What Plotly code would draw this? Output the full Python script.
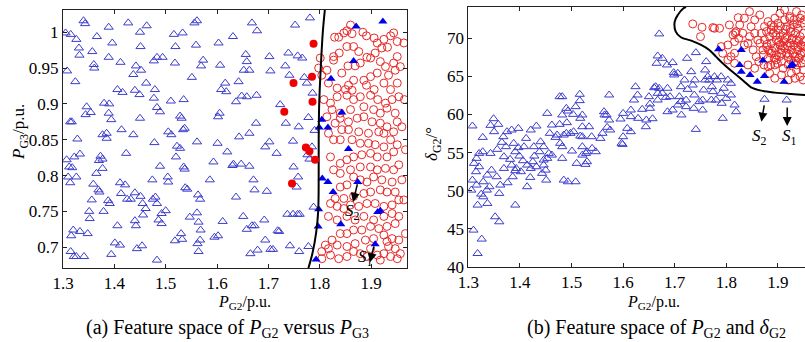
import plotly.graph_objects as go

# ---------------- Panel (a): P_G2 vs P_G3 ----------------
a_tri_p = [1.340,1.343,1.305,1.315,1.326,1.331,1.332,1.308,1.324,1.357,1.360,1.361,1.366,1.389,1.396,1.389,1.412,1.427,1.450,1.451,
           1.463,1.437,1.442,1.452,1.462,1.406,1.416,1.440,1.449,1.477,1.483,1.494,1.479,1.477,1.483,1.489,1.516,1.519,1.533,1.518,
           1.559,1.556,1.561,1.551,1.535,1.510,1.569,1.573,1.603,1.606,1.616,1.608,1.618,1.631,1.642,1.652,1.663,1.656,1.658,1.658,
           1.648,1.637,1.677,1.668,1.678,1.702,1.704,1.723,1.739,1.733,1.741,1.752,1.757,1.766,1.770,1.775,1.781,1.786,
           1.314,1.317,1.346,1.344,1.354,1.380,1.390,1.389,1.394,1.328,1.377,1.385,1.385,1.414,1.437,1.450,1.478,1.505,1.511,1.528,
           1.531,1.534,1.537,1.522,1.528,1.561,1.602,1.605,1.601,1.643,1.663,1.676,1.694,1.702,1.716,1.734,1.748,1.759,1.778,1.790,
           1.307,1.312,1.318,1.322,1.333,1.310,1.314,1.326,1.365,1.373,1.370,1.377,1.359,1.369,1.371,1.377,1.356,1.351,1.352,1.379,
           1.388,1.391,1.411,1.421,1.423,1.413,1.425,1.432,1.440,1.451,1.455,1.461,1.456,1.440,1.442,1.406,1.401,1.394,1.475,1.483,
           1.480,1.474,1.489,1.486,1.492,1.500,1.504,1.505,1.520,1.535,1.537,1.542,1.538,1.547,1.530,1.532,1.518,1.561,1.564,1.568,
           1.562,1.564,1.563,1.567,1.593,1.586,1.602,1.611,1.595,1.620,1.630,1.632,1.647,1.637,1.663,1.671,1.673,1.651,1.668,1.673,
           1.658,1.665,1.679,1.692,1.697,1.694,1.704,1.709,1.718,1.721,1.742,1.737,1.748,1.757,1.761,1.749,1.758,1.755,1.760,1.778,
           1.788,1.320,1.333,1.348,1.316,1.315,1.321,1.326,1.341,1.483,1.411,1.454,1.444,1.492,1.567,1.780,1.776,1.785]
a_tri_v = [1.016,1.012,0.999,0.997,0.990,0.978,0.968,0.946,0.931,0.973,0.955,0.950,0.994,1.007,0.985,0.965,0.958,1.013,1.000,0.980,
           1.009,0.941,0.953,0.947,0.929,0.920,0.916,0.919,0.913,0.960,0.965,0.965,0.920,0.908,0.895,0.889,0.997,0.980,0.999,0.957,
           0.982,1.013,1.016,0.937,0.906,0.904,0.953,0.961,0.985,0.954,0.929,0.920,0.917,0.994,0.931,0.947,0.947,0.969,0.959,0.910,
           0.911,0.903,0.912,1.013,1.002,0.966,0.946,0.899,0.971,0.953,0.940,1.010,0.967,0.964,0.937,0.929,1.020,0.915,
           0.875,0.875,0.896,0.885,0.888,0.901,0.900,0.887,0.878,0.851,0.857,0.859,0.852,0.864,0.857,0.880,0.846,0.861,0.857,0.883,
           0.880,0.864,0.866,0.841,0.838,0.847,0.882,0.887,0.845,0.854,0.859,0.873,0.840,0.847,0.831,0.873,0.848,0.868,0.881,0.863,
           0.822,0.812,0.811,0.826,0.830,0.798,0.790,0.798,0.803,0.827,0.821,0.823,0.788,0.780,0.777,0.810,0.766,0.750,0.740,0.750,
           0.765,0.761,0.790,0.787,0.831,0.775,0.767,0.767,0.776,0.771,0.761,0.754,0.745,0.737,0.730,0.730,0.706,0.690,0.767,0.761,
           0.770,0.794,0.813,0.738,0.733,0.751,0.798,0.791,0.826,0.812,0.809,0.781,0.783,0.742,0.719,0.711,0.709,0.748,0.735,0.724,
           0.705,0.694,0.773,0.767,0.819,0.794,0.716,0.736,0.714,0.833,0.814,0.816,0.816,0.770,0.813,0.794,0.780,0.743,0.730,0.730,
           0.725,0.691,0.696,0.738,0.778,0.710,0.697,0.697,0.723,0.722,0.702,0.746,0.746,0.746,0.746,0.812,0.798,0.784,0.694,0.701,
           0.756,0.724,0.722,0.719,0.716,0.694,0.687,0.687,0.687,0.682,0.703,0.702,0.698,0.747,0.710,0.823,0.829,0.840]

a_circ_p = [1.860,1.853,1.847,1.837,1.829,1.863,1.884,1.891,1.906,1.912,1.925,1.938,1.944,1.951,1.932,1.921,1.908,1.899,1.876,1.866,
            1.853,1.838,1.827,1.814,1.804,1.843,1.855,1.869,1.879,1.892,1.918,1.928,1.944,1.951,1.947,1.934,1.912,1.899,1.886,1.866,
            1.856,1.834,1.850,1.863,1.891,1.906,1.925,1.938,1.951,1.954,1.941,1.928,1.913,1.899,1.879,1.866,1.853,1.834,1.821,1.808,
            1.824,1.840,1.860,1.886,1.905,1.918,1.931,1.947,1.801,1.798,1.817,1.827,
            1.814,1.840,1.856,1.873,1.886,1.902,1.918,1.931,1.951,1.944,1.925,1.915,1.895,1.876,1.856,1.843,1.830,1.817,1.827,1.840,
            1.863,1.879,1.895,1.908,1.925,1.938,1.951,1.944,1.931,1.912,1.899,1.882,1.866,1.853,1.840,1.821,1.827,1.840,1.860,1.879,
            1.899,1.912,1.928,1.944,1.954,1.941,1.921,1.905,1.892,1.879,1.866,1.853,1.840,1.830,1.847,1.866,1.886,1.899,1.918,1.931,
            1.947,1.954,1.941,1.925,1.908,1.892,1.876,1.860,1.847,1.834,1.821,
            1.817,1.834,1.853,1.869,1.886,1.905,1.925,1.941,1.954,1.947,1.931,1.915,1.899,1.882,1.866,1.853,1.840,1.824,1.811,1.804,
            1.817,1.834,1.853,1.869,1.889,1.905,1.925,1.941,1.954,1.947,1.934,1.925,1.912,1.892,1.879,1.866,1.853,1.837,1.821,1.804,
            1.918,1.938,1.951,1.899,1.931,1.964,1.965,1.967,1.964,1.967,1.957,1.960,1.960,1.957]
a_circ_v = [1.010,1.002,0.999,0.993,0.993,0.998,1.000,0.995,0.992,0.985,0.990,0.995,0.999,0.987,0.979,0.978,0.971,0.964,0.973,0.980,
            0.980,0.971,0.961,0.947,0.940,0.943,0.953,0.953,0.957,0.965,0.959,0.952,0.957,0.966,0.947,0.940,0.943,0.938,0.933,0.933,
            0.926,0.922,0.920,0.919,0.926,0.920,0.929,0.920,0.929,0.910,0.906,0.901,0.906,0.912,0.910,0.906,0.912,0.910,0.901,0.906,
            0.892,0.887,0.892,0.896,0.892,0.887,0.894,0.887,0.964,0.950,0.929,0.966,
            0.882,0.880,0.875,0.880,0.882,0.875,0.873,0.868,0.875,0.861,0.859,0.861,0.859,0.861,0.864,0.864,0.873,0.859,0.850,0.850,
            0.850,0.845,0.845,0.843,0.840,0.850,0.843,0.833,0.826,0.826,0.831,0.829,0.826,0.822,0.817,0.826,0.808,0.803,0.808,0.812,
            0.812,0.808,0.810,0.808,0.815,0.791,0.794,0.798,0.791,0.794,0.798,0.787,0.784,0.768,0.768,0.771,0.775,0.777,0.780,0.777,
            0.777,0.766,0.759,0.757,0.761,0.761,0.757,0.759,0.754,0.757,0.761,
            0.743,0.738,0.743,0.738,0.743,0.738,0.743,0.747,0.743,0.733,0.729,0.726,0.729,0.724,0.724,0.719,0.719,0.710,0.703,0.694,
            0.698,0.703,0.701,0.705,0.710,0.712,0.717,0.712,0.710,0.698,0.701,0.691,0.689,0.687,0.691,0.694,0.687,0.684,0.689,0.684,
            0.682,0.687,0.684,0.698,0.708,0.985,0.906,0.836,0.766,0.719,0.952,0.868,0.794,0.691]

a_blue_p = [1.871,1.923,1.866,1.822,1.843,1.804,1.799,1.816,1.856,1.805,1.816,1.826,1.874,1.798,1.918,1.913,1.797,1.841,1.908,1.793]
a_blue_v = [1.008,1.015,0.960,0.935,0.888,0.878,0.867,0.867,0.837,0.796,0.791,0.777,0.791,0.753,0.751,0.749,0.729,0.732,0.704,0.683]

a_red_p = [1.788,1.749,1.785,1.786,1.731,1.773,1.780,1.791,1.746]
a_red_v = [0.984,0.929,0.938,0.903,0.889,0.839,0.834,0.822,0.789]

a_bound_p = [1.810,1.806,1.802,1.799,1.798,1.798,1.797,1.793,1.786,1.778]
a_bound_v = [1.031,1.000,0.950,0.900,0.850,0.800,0.750,0.720,0.692,0.671]

# ---------------- Panel (b): P_G2 vs delta_G2 ----------------
b_tri_p = [1.308,1.328,1.349,1.343,1.358,1.350,1.368,1.375,1.365,1.384,1.397,1.388,1.373,1.356,1.343,1.328,1.321,1.316,1.311,1.321,
           1.315,1.308,1.306,1.316,1.329,1.337,1.345,1.341,1.325,1.329,1.318,1.336,1.355,1.362,1.360,1.369,1.369,1.381,1.391,1.393,
           1.386,1.376,1.391,1.384,1.397,1.399,1.406,1.402,1.414,1.414,1.391,1.352,1.337,1.360,1.310,1.326,1.318,1.408,1.421,1.432,
           1.440,1.412,1.427,1.438,1.446,1.428,1.425,1.421,1.420,1.432,1.443,1.446,1.446,1.451,1.450,1.453,1.456,1.462,1.469,1.458,
           1.462,1.453,1.478,1.472,1.482,1.482,1.477,1.477,1.482,1.482,1.490,1.493,1.491,1.498,1.504,1.503,1.508,1.490,1.485,1.517,
           1.521,1.516,1.516,1.521,1.521,1.517,1.521,1.530,1.534,1.539,1.530,1.527,1.521,1.510,1.501,1.485,1.493,1.508,1.528,1.540,
           1.547,1.556,1.560,1.564,1.568,1.563,1.573,1.573,1.569,1.575,1.595,1.600,1.599,1.597,1.615,1.608,1.600,1.615,1.621,1.615,
           1.624,1.628,1.629,1.637,1.644,1.645,1.652,1.657,1.650,1.652,1.667,1.670,1.676,1.683,1.660,1.667,1.665,1.667,1.670,1.663,
           1.676,1.685,1.696,1.698,1.699,1.706,1.709,1.712,1.719,1.724,1.732,1.735,1.739,1.741,1.754,1.756,1.759,1.759,1.761,1.764,
           1.767,1.772,1.774,1.777,1.782,1.790,1.795,1.791,1.793,1.803,1.809,1.816,1.819,1.696,1.686,1.713,1.741,1.712,1.725,1.738,
           1.748,1.722,1.686,1.691,1.706,1.722,1.737,1.754,1.771,1.780,1.790,1.800,1.809,1.874,1.917]
b_tri_d = [58.5,57.0,59.45,58.58,58.71,57.75,57.09,57.75,56.35,57.97,58.18,56.22,55.78,55.43,54.9,55.12,54.9,54.25,53.59,53.15,
           52.5,51.4,50.09,50.75,51.18,52.06,52.71,50.53,49.56,49.21,48.12,50.09,51.84,50.75,49.65,52.93,54.47,54.12,55.12,52.93,
           51.84,51.05,52.63,53.37,55.65,54.55,53.94,52.5,53.37,50.53,48.12,46.59,48.34,45.93,44.84,43.66,41.77,55.78,57.97,58.49,
           56.43,56.87,55.78,55.12,55.78,54.55,53.81,52.93,51.75,53.15,52.28,54.03,53.37,51.4,52.71,54.25,54.9,54.68,57.0,57.53,
           58.62,60.15,56.22,57.31,55.78,54.25,58.71,62.34,62.34,59.94,60.81,60.46,58.93,57.53,57.75,60.02,61.03,57.53,57.31,59.5,
           59.94,61.82,62.65,58.4,57.09,57.18,55.78,55.12,58.4,57.09,53.81,53.46,54.68,53.59,55.21,51.4,51.18,51.18,54.9,55.56,
           55.12,56.87,57.53,59.94,59.94,60.37,59.28,62.56,58.32,57.97,59.41,60.15,56.08,56.22,59.72,58.18,57.09,57.75,61.9,60.59,
           63.65,62.56,59.5,60.68,58.4,59.28,61.38,59.45,62.34,60.81,62.78,63.44,62.78,62.25,63.52,61.9,66.72,67.68,70.57,63.65,
           67.37,66.5,66.81,65.49,65.19,65.41,62.34,61.69,64.53,67.37,65.62,63.87,64.53,68.12,61.9,63.22,64.53,65.84,66.94,64.97,
           64.53,63.65,63.0,64.97,64.53,64.97,63.44,61.47,59.5,64.53,64.09,61.25,60.37,60.59,60.37,59.94,58.05,63.65,63.3,62.56,
           61.69,61.9,63.44,62.34,61.25,61.03,60.81,60.59,61.9,61.9,62.78,62.12,62.56,62.0,61.9]

b_circ_p = [1.735,1.753,1.750,1.777,1.787,1.806,1.819,1.835,1.845,1.855,1.865,1.874,1.881,1.887,1.894,1.904,1.913,1.923,1.936,1.946,
            1.952,1.793,1.803,1.809,1.816,1.835,1.845,1.852,1.858,1.865,1.878,1.881,1.887,1.897,1.907,1.920,1.933,1.943,1.949,1.936,
            1.946,1.926,1.894,1.884,1.855,1.842,1.816,1.803,1.816,1.790,1.952,
            1.868,1.874,1.878,1.884,1.887,1.891,1.894,1.897,1.900,1.904,1.904,1.907,1.910,1.912,1.913,1.917,1.918,1.920,1.923,1.925,
            1.926,1.928,1.930,1.931,1.933,1.934,1.936,1.938,1.939,1.941,1.943,1.944,1.946,1.947,1.949,1.951,1.952,1.951,1.913,1.900,
            1.887,1.943,1.907,1.894,1.920,1.881,1.871,1.861,1.855,1.848,1.842,1.832,1.826,1.824,1.813,1.936,1.923,1.897,1.910,1.930,
            1.906,1.939,1.882,1.893,1.917,1.925,1.902,1.915,1.931,1.886,1.873,1.863,1.949,1.774,1.823,1.817,
            1.872,1.879,1.889,1.896,1.903,1.909,1.914,1.919,1.922,1.927,1.929,1.935,1.940,1.944,1.948,1.905,1.924,1.937,1.892,1.899]
b_circ_d = [71.88,71.44,70.22,71.31,71.31,71.75,70.88,72.63,73.5,72.41,73.06,71.53,72.19,71.09,72.63,73.28,73.72,72.84,73.5,73.06,
            72.41,68.03,69.12,67.59,69.56,69.12,70.22,68.47,67.59,69.34,68.91,66.28,68.03,67.16,65.19,64.53,64.75,64.97,64.53,65.84,
            66.72,65.41,64.75,65.41,66.06,66.5,66.72,67.16,68.03,68.91,68.91,
            70.66,69.78,70.88,70.22,69.34,70.66,68.69,69.78,71.09,70.22,69.12,68.03,70.66,69.56,68.69,71.53,70.22,67.59,69.34,70.88,
            68.47,70.0,71.75,69.12,67.59,70.66,69.78,68.47,71.31,67.37,70.22,69.12,68.03,71.97,70.66,69.56,67.16,68.2,72.41,71.97,
            71.75,72.63,66.94,66.5,66.5,67.37,68.47,69.78,70.66,71.53,69.34,70.66,71.75,70.0,70.44,66.5,72.63,67.81,66.06,66.72,
            68.47,68.91,68.47,67.37,68.03,67.16,69.56,71.18,72.41,66.5,66.5,66.94,65.84,71.4,72.7,70.7,
            67.8,69.2,68.3,70.4,67.6,69.0,70.0,69.0,67.9,69.8,68.0,67.0,69.6,67.8,69.0,71.6,71.3,71.9,71.5,66.7]

b_blue_p = [1.785,1.829,1.826,1.871,1.829,1.846,1.874,1.860,1.912,1.925,1.928]
b_blue_d = [68.56,68.47,66.5,67.07,65.62,65.19,65.06,64.31,64.31,66.37,66.59]

b_bound_p = [1.722,1.717,1.706,1.700,1.702,1.712,1.732,1.751,1.767,1.780,1.793,1.806,1.822,1.835,1.848,1.868,1.894,1.926,1.955]
b_bound_d = [74.1,73.94,73.06,72.19,70.88,70.13,69.69,69.12,68.47,67.59,66.72,65.93,65.06,64.31,63.57,63.13,62.87,62.69,62.56]

# Arrows (tail -> head) and labels
a_arrow_tail = [(1.874, 0.790), (1.906, 0.703)]
a_arrow_head = [(1.865, 0.763), (1.898, 0.679)]
a_labels = [("S", "2", 1.863, 0.749), ("S", "1", 1.889, 0.685)]
b_arrow_tail = [(1.874, 61.38), (1.918, 61.12)]
b_arrow_head = [(1.868, 59.06), (1.918, 58.49)]
b_labels = [("S", "2", 1.865, 57.1), ("S", "1", 1.923, 57.1)]

a_xticks = [1.3, 1.4, 1.5, 1.6, 1.7, 1.8, 1.9]
a_yticks = [0.7, 0.75, 0.8, 0.85, 0.9, 0.95, 1.0]
b_yticks = [40, 45, 50, 55, 60, 65, 70]

TRI_COL = "rgb(60,60,205)"
RED_COL = "rgb(232,40,40)"
FONT = "Liberation Serif"

fig = go.Figure()

def add_panel(xa, ya, tri_x, tri_y, circ_x, circ_y, blue_x, blue_y, bx, by):
    fig.add_trace(go.Scatter(x=tri_x, y=tri_y, mode="markers", xaxis=xa, yaxis=ya,
                             marker=dict(symbol="triangle-up-open", size=8, color=TRI_COL, line=dict(width=1))))
    fig.add_trace(go.Scatter(x=circ_x, y=circ_y, mode="markers", xaxis=xa, yaxis=ya,
                             marker=dict(symbol="circle-open", size=8, color=RED_COL, line=dict(width=1))))
    fig.add_trace(go.Scatter(x=blue_x, y=blue_y, mode="markers", xaxis=xa, yaxis=ya,
                             marker=dict(symbol="triangle-up", size=8, color="rgb(0,0,235)")))
    fig.add_trace(go.Scatter(x=bx, y=by, mode="lines", xaxis=xa, yaxis=ya,
                             line=dict(color="black", width=2, shape="spline")))

add_panel("x", "y", a_tri_p, a_tri_v, a_circ_p, a_circ_v, a_blue_p, a_blue_v, a_bound_p, a_bound_v)
fig.add_trace(go.Scatter(x=a_red_p, y=a_red_v, mode="markers", xaxis="x", yaxis="y",
                         marker=dict(symbol="circle", size=8, color="rgb(240,0,0)")))
add_panel("x2", "y2", b_tri_p, b_tri_d, b_circ_p, b_circ_d, b_blue_p, b_blue_d, b_bound_p, b_bound_d)

ann = []
for (t, h) in zip(a_arrow_tail, a_arrow_head):
    ann.append(dict(x=h[0], y=h[1], ax=t[0], ay=t[1], xref="x", yref="y", axref="x", ayref="y",
                    showarrow=True, arrowhead=2, arrowsize=1.2, arrowwidth=1.5, arrowcolor="black", text=""))
for (t, h) in zip(b_arrow_tail, b_arrow_head):
    ann.append(dict(x=h[0], y=h[1], ax=t[0], ay=t[1], xref="x2", yref="y2", axref="x2", ayref="y2",
                    showarrow=True, arrowhead=2, arrowsize=1.2, arrowwidth=1.5, arrowcolor="black", text=""))
for s, sub, x, y in a_labels:
    ann.append(dict(x=x, y=y, xref="x", yref="y", showarrow=False, xanchor="center", yanchor="middle",
                    text=f"<i>{s}</i><sub>{sub}</sub>", font=dict(family=FONT, size=17, color="black")))
for s, sub, x, y in b_labels:
    ann.append(dict(x=x, y=y, xref="x2", yref="y2", showarrow=False, xanchor="center", yanchor="middle",
                    text=f"<i>{s}</i><sub>{sub}</sub>", font=dict(family=FONT, size=17, color="black")))

tfont = dict(family=FONT, size=17, color="black")
def pann(px, py, text, size=16, angle=0):
    return dict(x=px/805, y=1-py/342, xref="paper", yref="paper", showarrow=False,
                xanchor="center", yanchor="middle", textangle=angle, text=text,
                font=dict(family=FONT, size=size, color="black"))

ann += [
    pann(244, 302, "<i>P</i><sub>G2</sub>/p.u.", size=16),
    pann(653, 302, "<i>P</i><sub>G2</sub>/p.u.", size=16),
    pann(20, 132, "<i>P</i><sub>G3</sub>/p.u.", size=17, angle=-90),
    pann(433, 144, "<i>δ</i><sub>G2</sub>/°", size=17, angle=-90),
    pann(227, 328, "(a) Feature space of <i>P</i><sub>G2</sub> versus <i>P</i><sub>G3</sub>", size=20),
    pann(656, 328, "(b) Feature space of <i>P</i><sub>G2</sub> and <i>δ</i><sub>G2</sub>", size=20),
]

axis_common = dict(showgrid=False, zeroline=False, showline=True, linecolor="#222", linewidth=1,
                   ticks="inside", ticklen=4, tickcolor="#222", tickfont=tfont, automargin=False)

fig.update_layout(
    width=805, height=342, margin=dict(l=0, r=0, t=0, b=0, autoexpand=False),
    paper_bgcolor="white", plot_bgcolor="white", showlegend=False,
    xaxis=dict(domain=[63/805, 407/805], range=[1.3, 1.97], tickvals=a_xticks, mirror="ticks",
               anchor="y", **axis_common),
    yaxis=dict(domain=[1-268/342, 1-10/342], range=[0.671, 1.031], tickvals=a_yticks, mirror="ticks",
               anchor="x", **axis_common),
    xaxis2=dict(domain=[468.3/805, 1.0], range=[1.3, 1.9525], tickvals=a_xticks, mirror="ticks",
                anchor="y2", **axis_common),
    yaxis2=dict(domain=[1-267/342, 1-7/342], range=[40, 74.1], tickvals=b_yticks, mirror=False,
                anchor="x2", **axis_common),
    annotations=ann,
)

fig.write_html("out.html", config={"displayModeBar": False},
               post_script="document.body.style.margin='0px';document.body.style.overflow='hidden';")
